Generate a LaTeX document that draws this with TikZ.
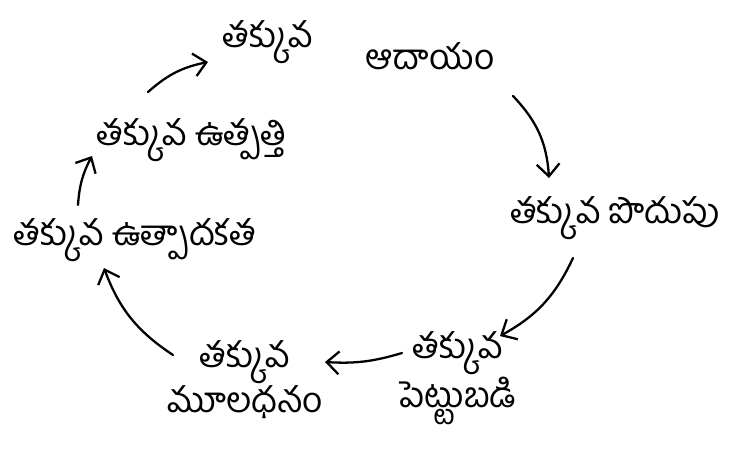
\documentclass[tikz,border=0pt]{standalone}
\usepackage{fontspec}
\newfontfamily\telugu[Script=Telugu]{Hind Guntur}
\usetikzlibrary{arrows.meta}
\begin{document}
\begin{tikzpicture}[x=0.02cm,y=-0.02cm,
  lbl/.style={font=\telugu\fontsize{20}{22}\selectfont, align=center, inner sep=1pt},
  cyc/.style={line width=1.3pt, line cap=round, -{Straight Barb[length=7pt,width=13pt,line width=1.3pt]}}]
\useasboundingbox[fill=white] (0,0) rectangle (731,451);
\node[lbl] (inc1) at (268,42) {తక్కువ};
\node[lbl] (inc2) at (430,56) {ఆదాయం};
\node[lbl] (sav) at (615,218) {తక్కువ పొదుపు};
\node[lbl] (inv) at (458,378) {తక్కువ\\పెట్టుబడి};
\node[lbl] (cap) at (245,380) {తక్కువ\\మూలధనం};
\node[lbl] (prd) at (135,240) {తక్కువ ఉత్పాదకత};
\node[lbl] (out) at (192,140) {తక్కువ ఉత్పత్తి};
\coordinate (a1) at (148,92); \coordinate (b1) at (208,62);
\coordinate (a2) at (513,96); \coordinate (b2) at (549,178);
\coordinate (a3) at (573,258); \coordinate (b3) at (500,336);
\coordinate (a4) at (402,353); \coordinate (b4) at (325,362);
\coordinate (a5) at (173,355); \coordinate (b5) at (104,268);
\coordinate (a6) at (78,205); \coordinate (b6) at (92,156);
\draw[cyc] (a1) to[bend left=15] (b1);
\draw[cyc] (a2) to[bend left=20] (b2);
\draw[cyc] (a3) to[bend left=18] (b3);
\draw[cyc] (a4) to[bend left=10] (b4);
\draw[cyc] (a5) to[bend left=18] (b5);
\draw[cyc] (a6) to[bend left=12] (b6);
\end{tikzpicture}
\end{document}
